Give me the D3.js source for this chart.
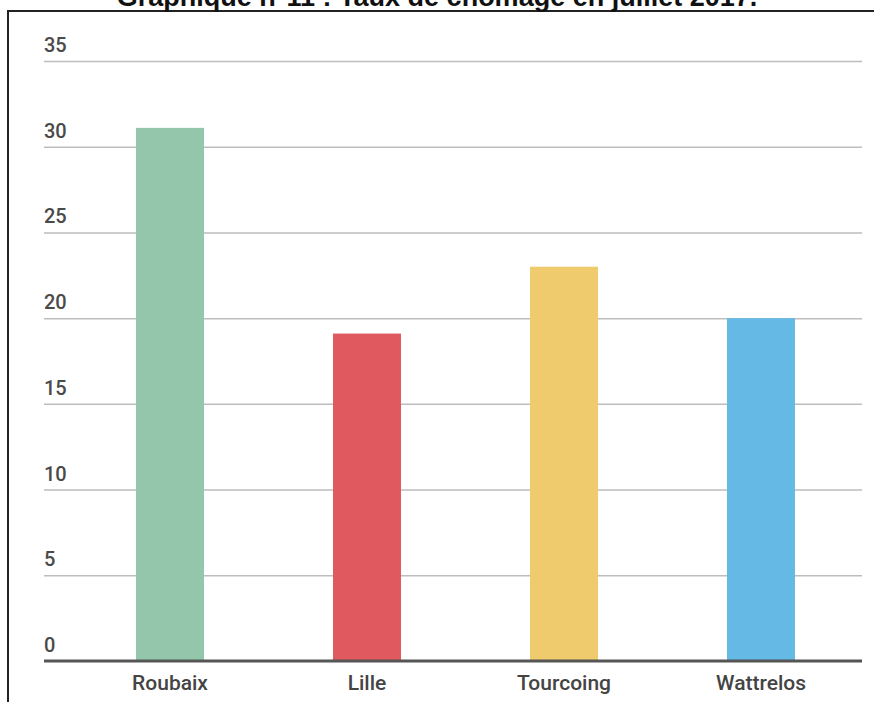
<!DOCTYPE html>
<html>
<head>
<meta charset="utf-8">
<script src="https://cdnjs.cloudflare.com/ajax/libs/d3/7.8.5/d3.min.js"></script>
<style>
  body { margin: 0; background: #fff; }
  svg { display: block; }
</style>
</head>
<body>
<svg class="chart"></svg>
<script>
var titleText = 'Graphique n°11 : Taux de chômage en juillet 2017.';
var villes = ['Roubaix', 'Lille', 'Tourcoing', 'Wattrelos'];
var taux = [31.1, 19.1, 23.0, 20.0];
var couleurs = ['#93c6aa', '#e0595e', '#f0cb6d', '#65b9e5'];
var ticks = [0, 5, 10, 15, 20, 25, 30, 35];

var width = 874;
var height = 702;
var chart = d3.select('.chart').attr('width', width).attr('height', height);

// frame (top + left border of the screenshot)
chart.append('line')
  .attr('x1', 7).attr('x2', width).attr('y1', 11).attr('y2', 11)
  .attr('stroke', '#222').attr('stroke-width', 2);
chart.append('line')
  .attr('x1', 8).attr('x2', 8).attr('y1', 10).attr('y2', height)
  .attr('stroke', '#222').attr('stroke-width', 2);

// title, cut off at the top
chart.append('text')
  .attr('x', 437).attr('y', 6)
  .attr('text-anchor', 'middle')
  .style('font-family', 'Liberation Sans, Arial, sans-serif')
  .style('font-weight', 'bold')
  .style('font-size', '27px')
  .attr('fill', '#111')
  .text(titleText);

var left = 44, right = 862;
var y = d3.scaleLinear().domain([0, 35]).range([661, 61]);
var x = d3.scaleBand().domain(villes).range([71.5, 859.5]).paddingInner(0.655).paddingOuter(0.3275);

// gridlines
var grid = chart.append('g')
  .attr('transform', 'translate(' + left + ',0)')
  .call(d3.axisLeft(y).tickValues(ticks.filter(t => t > 0)).tickSize(-(right - left)).tickFormat(''));
grid.select('.domain').remove();
grid.selectAll('line').attr('stroke', '#bdbdbd').attr('stroke-width', 1.5);

// bars
chart.append('g').selectAll('rect')
  .data(taux)
  .enter().append('rect')
  .attr('x', (d, i) => x(villes[i]))
  .attr('width', x.bandwidth())
  .attr('y', d => y(d))
  .attr('height', d => y(0) - y(d))
  .attr('fill', (d, i) => couleurs[i]);

// baseline
chart.append('line')
  .attr('x1', left).attr('x2', right).attr('y1', y(0)).attr('y2', y(0))
  .attr('stroke', '#555').attr('stroke-width', 3);

// tick labels above gridlines
chart.append('g').selectAll('text')
  .data(ticks)
  .enter().append('text')
  .attr('x', left)
  .attr('y', d => y(d) - 9)
  .style('font-family', 'Roboto, sans-serif')
  .style('font-size', '20px')
  .style('font-weight', '500')
  .attr('fill', '#4a4a4a')
  .text(d => d);

// category labels
var xAxis = chart.append('g')
  .attr('transform', 'translate(0,' + y(0) + ')')
  .call(d3.axisBottom(x).tickSize(0).tickPadding(29));
xAxis.select('.domain').remove();
xAxis.selectAll('text')
  .attr('dy', 0)
  .style('font-family', 'Roboto, sans-serif')
  .style('font-size', '21px')
  .style('font-weight', '500')
  .attr('fill', '#444');
</script>
</body>
</html>
